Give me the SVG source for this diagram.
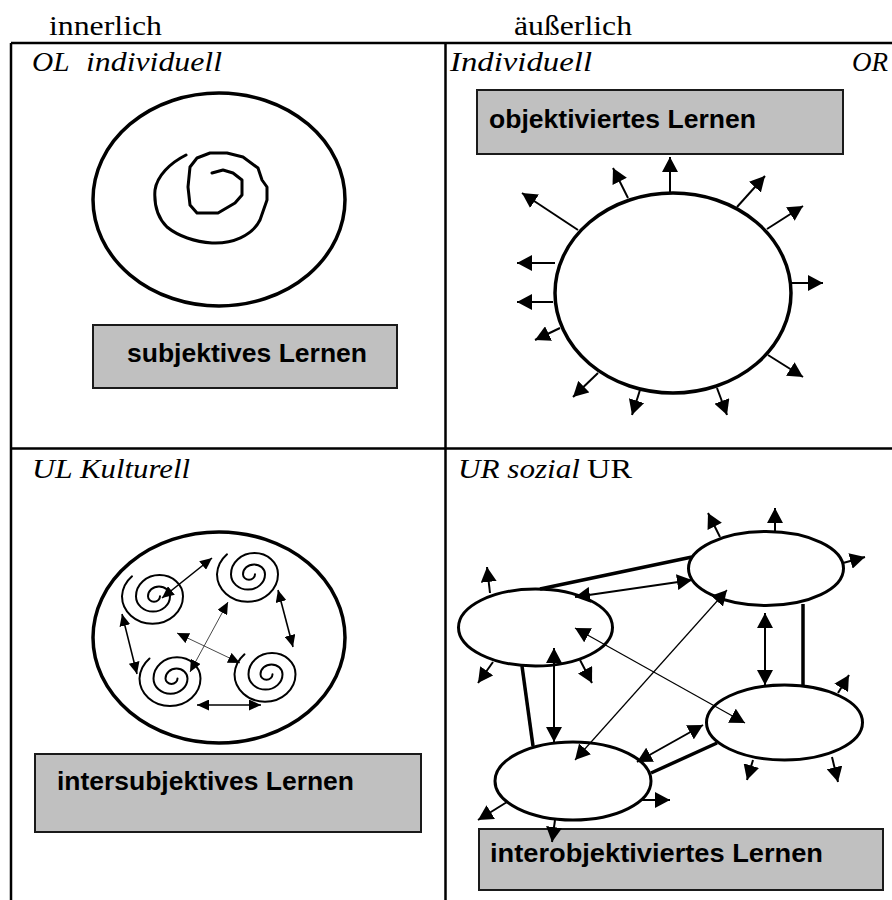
<svg xmlns="http://www.w3.org/2000/svg" width="892" height="900" viewBox="0 0 892 900">
  <style>
    .frame{fill:none;stroke:#000;stroke-width:2.5}
    .hd{font-family:"Liberation Serif","Times New Roman",serif;font-size:27px;fill:#000}
    .it{font-style:italic}
    .lbl{font-family:"Liberation Sans",Arial,sans-serif;font-weight:bold;font-size:25px;fill:#000}
    .box{fill:#c0c0c0;stroke:#1a1a1a;stroke-width:2}
    .ring{fill:none;stroke:#000;stroke-width:3.5}
    .cell{fill:none;stroke:#000;stroke-width:3}
    .curl{fill:none;stroke:#000;stroke-width:3;stroke-linejoin:round;stroke-linecap:round}
    .scurl{fill:none;stroke:#000;stroke-width:2;stroke-linejoin:round;stroke-linecap:round}
    .out{fill:none;stroke:#000;stroke-width:2;marker-end:url(#ah)}
    .dbl{fill:none;stroke:#000;stroke-width:2;marker-start:url(#ah);marker-end:url(#ah)}
    .thin{fill:none;stroke:#000;stroke-width:1.2;marker-start:url(#ah);marker-end:url(#ah)}
    .bond{fill:none;stroke:#000;stroke-width:3.5}
    .sdbl{fill:none;stroke:#000;stroke-width:1.6;marker-start:url(#as);marker-end:url(#as)}
    .sthin{fill:none;stroke:#333;stroke-width:0.9;marker-start:url(#as);marker-end:url(#as)}
  </style>
  <defs>
    <marker id="ah" viewBox="0 0 15 16" refX="15" refY="8" markerWidth="15" markerHeight="16" markerUnits="userSpaceOnUse" orient="auto-start-reverse">
      <path d="M0,0 L15,8 L0,16 Z" fill="#000"/>
    </marker>
    <marker id="as" viewBox="0 0 12 11" refX="12" refY="5.5" markerWidth="12" markerHeight="11" markerUnits="userSpaceOnUse" orient="auto-start-reverse">
      <path d="M0,0 L12,5.5 L0,11 Z" fill="#000"/>
    </marker>
    <!-- small spiral built from half-ellipse arcs, centred near the origin -->
    <path id="smallCurl" class="scurl" d="M4,0 A6,5.4 0 0 1 -8,0 A11,9.9 0 0 1 14,0 A17,15.3 0 0 1 -20,0 A23.5,21.2 0 0 1 27,0 A30.5,27.5 0 0 1 -34,0 A34,30 0 0 1 -24,-20"/>
  </defs>

  <!-- column headings -->
  <g id="headings">
    <text class="hd" x="49" y="35" textLength="113" lengthAdjust="spacingAndGlyphs">innerlich</text>
    <text class="hd" x="514" y="35" textLength="118" lengthAdjust="spacingAndGlyphs">äußerlich</text>
  </g>

  <!-- table grid -->
  <g id="table">
    <path class="frame" d="M11,43 H892 M11,43 V900 M445.5,43 V900 M11,448.5 H892"/>
  </g>

  <!-- upper left: individual, inner -->
  <g id="ol-title">
    <text class="hd it" y="71"><tspan x="32" textLength="37" lengthAdjust="spacingAndGlyphs">OL</tspan> <tspan x="86" textLength="136" lengthAdjust="spacingAndGlyphs">individuell</tspan></text>
  </g>
  <g id="ol-self">
    <ellipse class="ring" cx="219" cy="199.5" rx="126" ry="106.5"/>
    <path class="curl" d="M212,173 L223,170 L233,173 L242,180 L242,195 L235,203 L218,213 L197,213 L190,205 L188,187 L190,167 L197,158 L210,153 L227,153 L243,157 L258,168 L262,180 L267,187 L267,200 L260,220 C252,236 232,244 212,243 C195,242 178,236 167,227 C157,217 154,203 155,190 C157,176 170,163 186,155"/>
  </g>
  <g id="ol-label">
    <rect class="box" x="93" y="325" width="304" height="63"/>
    <text class="lbl" x="127" y="362" textLength="240" lengthAdjust="spacingAndGlyphs">subjektives Lernen</text>
  </g>

  <!-- upper right: individual, outer -->
  <g id="or-title">
    <text class="hd it" x="450" y="71" textLength="142" lengthAdjust="spacingAndGlyphs">Individuell</text>
    <text class="hd it" x="852" y="71">OR</text>
  </g>
  <g id="or-label">
    <rect class="box" x="477" y="90" width="366" height="64"/>
    <text class="lbl" x="489" y="128" textLength="267" lengthAdjust="spacingAndGlyphs">objektiviertes Lernen</text>
  </g>
  <g id="or-body">
    <ellipse class="ring" cx="673" cy="293" rx="118" ry="100"/>
  </g>

  <!-- lower left: cultural, inner -->
  <g id="ul-title">
    <text class="hd it" y="478"><tspan x="32" textLength="40" lengthAdjust="spacingAndGlyphs">UL</tspan> <tspan x="80" textLength="110" lengthAdjust="spacingAndGlyphs">Kulturell</tspan></text>
  </g>
  <g id="ul-group">
    <ellipse class="ring" cx="219" cy="637.5" rx="126" ry="105.5"/>
  </g>
  <g id="ul-curl-a"><use href="#smallCurl" transform="translate(156,596.3)"/></g>
  <g id="ul-curl-b"><use href="#smallCurl" transform="translate(251,574.3)"/></g>
  <g id="ul-curl-c"><use href="#smallCurl" transform="translate(173.5,678.5)"/></g>
  <g id="ul-curl-d"><use href="#smallCurl" transform="translate(268.5,674.3)"/></g>
  <g id="ul-label">
    <rect class="box" x="35" y="754" width="386" height="78"/>
    <text class="lbl" x="57" y="790" textLength="297" lengthAdjust="spacingAndGlyphs">intersubjektives Lernen</text>
  </g>

  <!-- lower right: social, outer -->
  <g id="ur-title">
    <text class="hd" y="478"><tspan class="it" x="458" textLength="122" lengthAdjust="spacingAndGlyphs">UR sozial</tspan> <tspan x="587" textLength="45" lengthAdjust="spacingAndGlyphs">UR</tspan></text>
  </g>
  <g id="ur-system-1"><ellipse class="cell" cx="535.5" cy="627.5" rx="77" ry="38.5"/></g>
  <g id="ur-system-2"><ellipse class="cell" cx="766" cy="568.5" rx="77.5" ry="37"/></g>
  <g id="ur-system-3"><ellipse class="cell" cx="784.5" cy="722.5" rx="78" ry="37.5"/></g>
  <g id="ur-system-4"><ellipse class="cell" cx="573" cy="781" rx="78" ry="39"/></g>
  <g id="ur-label">
    <rect class="box" x="479" y="829" width="404" height="61"/>
    <text class="lbl" x="490" y="862" textLength="333" lengthAdjust="spacingAndGlyphs">interobjektiviertes Lernen</text>
  </g>

  <!-- connectors -->
  <g id="connectors">
    <!-- rays leaving the single organism -->
    <g id="or-rays">
      <path class="out" d="M670,192 L670,157"/>
      <path class="out" d="M628,198 L613,168"/>
      <path class="out" d="M578,230 L522,193"/>
      <path class="out" d="M555,263 L517,263"/>
      <path class="out" d="M553,302 L517,302"/>
      <path class="out" d="M560,328 L535,340"/>
      <path class="out" d="M598,373 L573,397"/>
      <path class="out" d="M640,390 L632,415"/>
      <path class="out" d="M717,388 L727,415"/>
      <path class="out" d="M768,355 L803,377"/>
      <path class="out" d="M792,283 L823,283"/>
      <path class="out" d="M767,229 L803,206"/>
      <path class="out" d="M737,207 L765,176"/>
    </g>
    <!-- exchanges between the four spirals -->
    <g id="ul-links">
      <path class="sdbl" d="M162,598 L212,558"/>
      <path class="sdbl" d="M278,590 L293,647"/>
      <path class="sdbl" d="M122,614 L137,674"/>
      <path class="sdbl" d="M197,705 L261,705"/>
      <path class="sthin" d="M177,633 L240,663"/>
      <path class="sthin" d="M190,672 L228,602"/>
    </g>
    <!-- network of social systems -->
    <g id="ur-links">
      <path class="bond" d="M540,589 L692,557"/>
      <path class="bond" d="M803,604 L803,685"/>
      <path class="bond" d="M522,666 L533,746"/>
      <path class="bond" d="M651,773 L717,743"/>
      <path class="dbl" d="M575,597 L692,580"/>
      <path class="dbl" d="M765,613 L765,685"/>
      <path class="dbl" d="M554,648 L554,742"/>
      <path class="dbl" d="M637,762 L703,725"/>
      <path class="thin" d="M575,628 L745,723"/>
      <path class="thin" d="M575,760 L727,590"/>
      <path class="out" d="M720,537 L708,513"/>
      <path class="out" d="M775,531 L775,508"/>
      <path class="out" d="M843,563 L865,557"/>
      <path class="out" d="M490,593 L487,567"/>
      <path class="out" d="M493,662 L478,683"/>
      <path class="out" d="M580,660 L592,683"/>
      <path class="out" d="M838,693 L849,675"/>
      <path class="out" d="M753,760 L747,780"/>
      <path class="out" d="M832,757 L838,782"/>
      <path class="out" d="M507,802 L478,820"/>
      <path class="out" d="M555,820 L552,842"/>
      <path class="out" d="M640,800 L670,800"/>
    </g>
  </g>
</svg>
